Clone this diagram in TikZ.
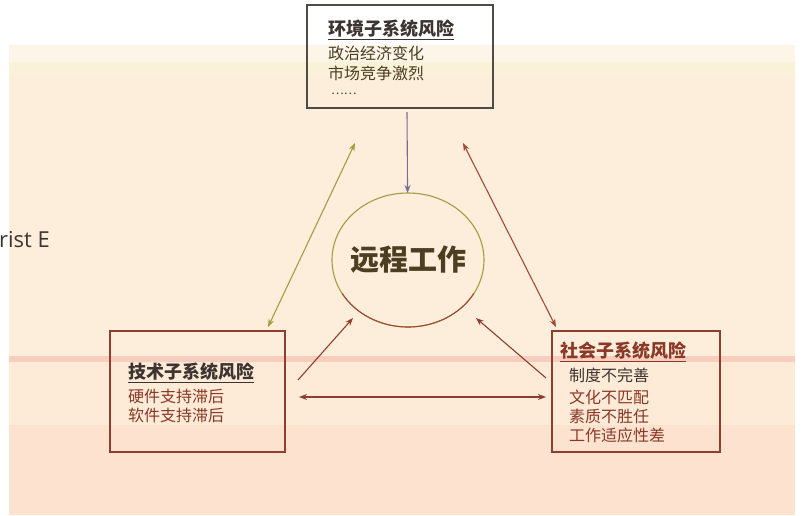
\documentclass[tikz,border=0pt]{standalone}
\usepackage{fontspec}
\setmainfont{Open Sans}
\newfontfamily\cjk{Noto Sans CJK SC}
\usetikzlibrary{arrows.meta,shapes.geometric}
\definecolor{bgA}{HTML}{FCF5E8}
\definecolor{bgB}{HTML}{FAF2D8}
\definecolor{bgC}{HTML}{FCEEDA}
\definecolor{bgP}{HTML}{F8CDBE}
\definecolor{bgD}{HTML}{FDEAD7}
\definecolor{bgE}{HTML}{FDE2CF}
\definecolor{boxgray}{HTML}{4E4B48}
\definecolor{boxred}{HTML}{8E3E2E}
\definecolor{txtdark}{HTML}{3C3430}
\definecolor{txtolive}{HTML}{4C3E22}
\definecolor{txtred}{HTML}{8A3828}
\definecolor{olive}{HTML}{A49C42}
\definecolor{rust}{HTML}{A04A36}
\definecolor{lilac}{HTML}{7C6C94}
\tikzset{
  riskbox/.style={draw, line width=1.1pt, inner sep=0pt},
  title/.style={anchor=west, inner sep=0pt, font=\cjk\bfseries\fontsize{18}{20}\selectfont, text=txtdark},
  item/.style={anchor=west, inner sep=0pt, font=\cjk\fontsize{16}{18}\selectfont},
  link/.style={line width=1.1pt, -{Stealth[length=8pt,width=6pt]}},
  dlink/.style={line width=1.1pt, {Stealth[length=8pt,width=6pt]}-{Stealth[length=8pt,width=6pt]}},
}
\begin{document}
\begin{tikzpicture}[x=1pt,y=-1pt]
\useasboundingbox (0,0) rectangle (803,515);
% background bands
\fill[bgA] (9,45) rectangle (795,62);
\fill[bgB] (9,62) rectangle (795,76);
\fill[bgC] (9,76) rectangle (795,356);
\fill[bgP] (9,356) rectangle (795,362);
\fill[bgD] (9,362) rectangle (795,425);
\fill[bgE] (9,425) rectangle (795,515);
\node[anchor=west, inner sep=0pt, font=\fontsize{22}{24}\selectfont, text=txtdark] (frag) at (-1,240) {rist E};
% boxes
\node[riskbox, draw=boxgray, minimum width=186pt, minimum height=103pt] (env) at (400,56.5) {};
\node[riskbox, draw=boxred, minimum width=175pt, minimum height=121pt] (tech) at (197.5,391.5) {};
\node[riskbox, draw=boxred, minimum width=168pt, minimum height=121pt] (soc) at (636,391.5) {};
% core
\node[draw=olive, line width=1.1pt, ellipse, minimum width=152pt, minimum height=134pt, inner sep=0pt, outer sep=0pt] (core) at (408,260) {};
\draw[rust, line width=1.1pt] (core.center) ++(30:76 and 67) arc[start angle=30, end angle=150, x radius=76, y radius=67];
\node[inner sep=0pt, font=\cjk\bfseries\fontsize{29}{31}\selectfont, text=txtolive] (coreT) at (408,260) {远程工作};
% texts
\node[title] (envT) at (328,30) {\underline{环境子系统风险}};
\node[item, text=txtolive] (env1) at (328,53) {政治经济变化};
\node[item, text=txtolive] (env2) at (328,73) {市场竞争激烈};
\node[item, text=txtolive, font=\cjk\fontsize{12}{14}\selectfont] (env3) at (331,94) {……};
\node[title] (techT) at (128,373) {\underline{技术子系统风险}};
\node[item, text=txtred] (tech1) at (128,396) {硬件支持滞后};
\node[item, text=txtred] (tech2) at (128,415) {软件支持滞后};
\node[title, text=txtred] (socT) at (560,352) {\underline{社会子系统风险}};
\node[item, text=txtdark] (soc1) at (569,375) {制度不完善};
\node[item, text=txtred] (soc2) at (569,397) {文化不匹配};
\node[item, text=txtred] (soc3) at (569,416) {素质不胜任};
\node[item, text=txtred] (soc4) at (569,435) {工作适应性差};
% connector ends
\coordinate (envS) at (407,112);
\coordinate (lA) at (268,327);
\coordinate (lB) at (355,143);
\coordinate (rA) at (463,143);
\coordinate (rB) at (556,327);
\coordinate (tS) at (298,380);
\coordinate (tE) at (353,318);
\coordinate (sS) at (546,378);
\coordinate (sE) at (476,318);
\coordinate (hA) at (299,397);
\coordinate (hB) at (546,397);
% connectors
\draw[link, lilac] (envS) -- (core);
\draw[dlink, olive] (lA) -- (lB);
\draw[dlink, rust] (rA) -- (rB);
\draw[link, boxred] (tS) -- (tE);
\draw[link, boxred] (sS) -- (sE);
\draw[dlink, boxred] (hA) -- (hB);
\end{tikzpicture}
\end{document}
